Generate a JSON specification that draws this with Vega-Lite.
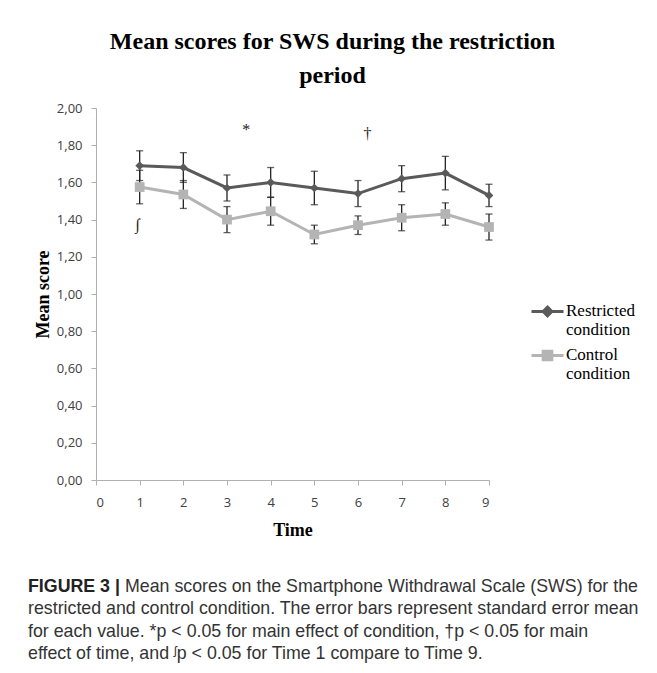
{
  "$schema": "https://vega.github.io/schema/vega-lite/v6.json",
  "background": "white",
  "padding": {"left": 28, "top": 30, "right": 0, "bottom": 0},
  "bounds": "flush",
  "spacing": 112,
  "config": {
    "view": {"stroke": null},
    "axis": {
      "grid": false,
      "domainColor": "#b0b0b0",
      "tickColor": "#b0b0b0",
      "tickSize": 5,
      "labelFont": "Open Sans",
      "labelFontSize": 13,
      "labelColor": "#404040",
      "labelOverlap": false,
      "titleFont": "Liberation Serif",
      "titleFontSize": 18,
      "titleFontWeight": "bold",
      "titleColor": "black"
    }
  },
  "vconcat": [
    {
      "title": {
        "text": ["Mean scores for SWS during the restriction", "period"],
        "font": "Liberation Serif",
        "fontSize": 24,
        "fontWeight": "bold",
        "lineHeight": 34,
        "color": "black",
        "frame": "group",
        "anchor": "middle",
        "dx": 40,
        "offset": 14
      },
      "width": 393,
      "height": 372,
      "data": {
        "values": [
          {"t": 1, "condition": "Restricted condition", "mean": 1.69, "lo": 1.61, "hi": 1.77},
          {"t": 2, "condition": "Restricted condition", "mean": 1.68, "lo": 1.60, "hi": 1.76},
          {"t": 3, "condition": "Restricted condition", "mean": 1.57, "lo": 1.50, "hi": 1.64},
          {"t": 4, "condition": "Restricted condition", "mean": 1.60, "lo": 1.52, "hi": 1.68},
          {"t": 5, "condition": "Restricted condition", "mean": 1.57, "lo": 1.48, "hi": 1.66},
          {"t": 6, "condition": "Restricted condition", "mean": 1.54, "lo": 1.47, "hi": 1.61},
          {"t": 7, "condition": "Restricted condition", "mean": 1.62, "lo": 1.55, "hi": 1.69},
          {"t": 8, "condition": "Restricted condition", "mean": 1.65, "lo": 1.56, "hi": 1.74},
          {"t": 9, "condition": "Restricted condition", "mean": 1.53, "lo": 1.47, "hi": 1.59},
          {"t": 1, "condition": "Control condition", "mean": 1.575, "lo": 1.485, "hi": 1.665},
          {"t": 2, "condition": "Control condition", "mean": 1.535, "lo": 1.46, "hi": 1.61},
          {"t": 3, "condition": "Control condition", "mean": 1.40, "lo": 1.33, "hi": 1.47},
          {"t": 4, "condition": "Control condition", "mean": 1.445, "lo": 1.37, "hi": 1.52},
          {"t": 5, "condition": "Control condition", "mean": 1.32, "lo": 1.27, "hi": 1.37},
          {"t": 6, "condition": "Control condition", "mean": 1.37, "lo": 1.32, "hi": 1.42},
          {"t": 7, "condition": "Control condition", "mean": 1.41, "lo": 1.34, "hi": 1.48},
          {"t": 8, "condition": "Control condition", "mean": 1.43, "lo": 1.37, "hi": 1.49},
          {"t": 9, "condition": "Control condition", "mean": 1.36, "lo": 1.29, "hi": 1.43}
        ]
      },
      "encoding": {
        "x": {
          "field": "t",
          "type": "quantitative",
          "scale": {"domain": [0, 9], "nice": false},
          "axis": {"values": [0, 1, 2, 3, 4, 5, 6, 7, 8, 9], "format": "d", "labelPadding": 11, "titlePadding": 12},
          "title": "Time"
        },
        "y": {
          "field": "mean",
          "type": "quantitative",
          "scale": {"domain": [0, 2], "nice": false},
          "axis": {
            "values": [0, 0.2, 0.4, 0.6, 0.8, 1, 1.2, 1.4, 1.6, 1.8, 2],
            "labelExpr": "replace(format(datum.value, '.2f'), '.', ',')",
            "labelOverlap": false,
            "labelPadding": 9,
            "titlePadding": 4
          },
          "title": "Mean score"
        }
      },
      "layer": [
        {
          "mark": {"type": "errorbar", "ticks": true, "size": 7, "thickness": 1.3, "color": "#222222"},
          "encoding": {
            "y": {
              "field": "lo",
              "type": "quantitative",
              "axis": {
                "values": [0, 0.2, 0.4, 0.6, 0.8, 1, 1.2, 1.4, 1.6, 1.8, 2],
                "labelExpr": "replace(format(datum.value, '.2f'), '.', ',')",
                "labelOverlap": false,
                "labelPadding": 9,
                "titlePadding": 4
              },
              "title": "Mean score"
            },
            "y2": {"field": "hi"}
          }
        },
        {
          "mark": {"type": "line", "strokeWidth": 3},
          "encoding": {
            "color": {
              "field": "condition",
              "type": "nominal",
              "scale": {"domain": ["Restricted condition", "Control condition"], "range": ["#5a5a5a", "#b4b4b4"]},
              "legend": {
                "title": null,
                "orient": "none",
                "legendX": 434,
                "legendY": 186,
                "padding": 0,
                "symbolSize": 1024,
                "symbolType": "stroke",
                "labelOffset": 1,
                "rowPadding": 0,
                "labelFont": "Liberation Serif",
                "labelFontSize": 17,
                "labelColor": "black",
                "labelLimit": 200,
                "labelBaseline": "top",
                "labelExpr": "split(datum.label, ' ')",
                "encode": {
                  "symbols": {
                    "update": {
                      "shape": {"signal": "datum.value == 'Restricted condition' ? 'M-1,0H1M0,-0.27L0.27,0L0,0.27L-0.27,0Z' : 'M-1,0H1M-0.27,-0.27H0.27V0.27H-0.27Z'"},
                      "fill": {"signal": "datum.value == 'Restricted condition' ? '#5a5a5a' : '#b4b4b4'"},
                      "stroke": {"signal": "datum.value == 'Restricted condition' ? '#5a5a5a' : '#b4b4b4'"},
                      "strokeWidth": {"value": 3},
                      "size": {"value": 1024},
                      "opacity": {"value": 1}
                    }
                  },
                  "labels": {
                    "update": {
                      "lineHeight": {"value": 19},
                      "dy": {"value": -9}
                    }
                  }
                }
              }
            }
          }
        },
        {
          "transform": [{"filter": "datum.condition == 'Restricted condition'"}],
          "mark": {"type": "point", "filled": true, "opacity": 1, "shape": "diamond", "size": 75},
          "encoding": {
            "color": {"field": "condition", "type": "nominal"}
          }
        },
        {
          "transform": [{"filter": "datum.condition == 'Control condition'"}],
          "mark": {"type": "point", "filled": true, "opacity": 1, "shape": "square", "size": 95},
          "encoding": {
            "color": {"field": "condition", "type": "nominal"}
          }
        },
        {
          "data": {
            "values": [
              {"t": 3.44, "mean": 1.88, "label": "*"},
              {"t": 6.22, "mean": 1.86, "label": "†"},
              {"t": 0.95, "mean": 1.37, "label": "∫"}
            ]
          },
          "mark": {"type": "text", "font": "Liberation Serif", "fontSize": 16, "color": "#222222", "baseline": "middle"},
          "encoding": {
            "text": {"field": "label"}
          }
        }
      ]
    },
    {
      "width": 550,
      "height": 67,
      "data": {
        "values": [
          {"line": 1, "part": "bold", "text": "FIGURE 3 |"},
          {"line": 1, "part": "rest", "text": "Mean scores on the Smartphone Withdrawal Scale (SWS) for the"},
          {"line": 2, "part": "plain", "text": "restricted and control condition. The error bars represent standard error mean"},
          {"line": 3, "part": "plain", "text": "for each value. *p < 0.05 for main effect of condition, †p < 0.05 for main"},
          {"line": 4, "part": "plain", "text": "effect of time, and ᶴp < 0.05 for Time 1 compare to Time 9."}
        ]
      },
      "encoding": {
        "x": {"datum": 0, "type": "quantitative", "scale": {"domain": [0, 1]}, "axis": null},
        "y": {"field": "line", "type": "ordinal", "scale": {"type": "point", "padding": 0}, "axis": null},
        "text": {"field": "text"}
      },
      "layer": [
        {
          "transform": [{"filter": "datum.part == 'bold'"}],
          "mark": {"type": "text", "align": "left", "baseline": "alphabetic", "dx": -68, "font": "Liberation Sans", "fontSize": 17.8, "fontWeight": "bold", "color": "#222222"}
        },
        {
          "transform": [{"filter": "datum.part == 'rest'"}],
          "mark": {"type": "text", "align": "left", "baseline": "alphabetic", "dx": 29, "font": "Liberation Sans", "fontSize": 17.8, "color": "#333333"}
        },
        {
          "transform": [{"filter": "datum.part == 'plain'"}],
          "mark": {"type": "text", "align": "left", "baseline": "alphabetic", "dx": -68, "font": "Liberation Sans", "fontSize": 17.8, "color": "#333333"}
        }
      ]
    }
  ]
}
